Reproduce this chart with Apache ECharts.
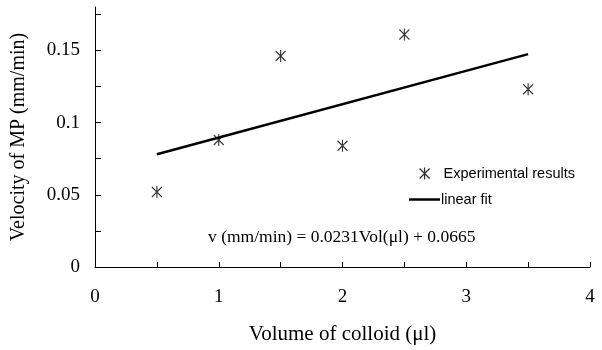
<!DOCTYPE html>
<html>
<head>
<meta charset="utf-8">
<script src="https://cdn.jsdelivr.net/npm/echarts@6/dist/echarts.min.js"></script>
<style>
  html, body { margin: 0; padding: 0; background: #fff; }
  #chart { width: 602px; height: 350px; }
</style>
</head>
<body>
<div id="chart"></div>
<script>
// Measured migration velocity against colloid volume
const volumes = [0.5, 1, 1.5, 2, 2.5, 3.5];
const velocities = [0.052, 0.088, 0.146, 0.084, 0.161, 0.123];

// Least-squares fit stated in the annotation: v = 0.0231 Vol + 0.0665
const fitSlope = 0.0231;
const fitIntercept = 0.0665;
const fitRange = [0.5, 3.5];

// Axis ticks and labels
const xTickValues = [0, 0.5, 1, 1.5, 2, 2.5, 3, 3.5, 4];
const xLabelValues = [0, 1, 2, 3, 4];
const yTickValues = [0, 0.025, 0.05, 0.075, 0.1, 0.125, 0.15, 0.175];
const yLabelValues = [0, 0.05, 0.1, 0.15];

const seriesNames = ['Experimental results', 'linear fit'];
const equationText = 'v (mm/min) = 0.0231Vol(\u03bcl) + 0.0665';

const serif = '"Liberation Serif", "Times New Roman", serif';
const sans = '"Liberation Sans", Arial, sans-serif';

// Asterisk marker: vertical stroke crossed by two diagonals
const asterisk = 'path://M5,0 L5,12 M0,1 L10,11 M10,1 L0,11';

const scatterData = volumes.map((v, i) => [v, velocities[i]]);
const fitData = fitRange.map(v => [v, fitSlope * v + fitIntercept]);

const chart = echarts.init(document.getElementById('chart'), null, { renderer: 'canvas' });

chart.setOption({
  animation: false,
  backgroundColor: '#fff',
  grid: { left: 95, right: 12, top: 7, bottom: 82, containLabel: false },
  xAxis: {
    type: 'value',
    min: 0,
    max: 4,
    interval: 0.5,
    name: 'Volume of colloid (\u03bcl)',
    nameLocation: 'middle',
    nameGap: 57,
    nameTextStyle: { fontFamily: serif, fontSize: 21, color: '#000' },
    axisLine: { show: true, onZero: false, lineStyle: { color: '#000', width: 1 } },
    axisTick: { show: true, inside: true, length: 5, customValues: xTickValues, lineStyle: { color: '#000' } },
    axisLabel: { customValues: xLabelValues, margin: 21, fontFamily: serif, fontSize: 19, color: '#000' },
    splitLine: { show: false }
  },
  yAxis: {
    type: 'value',
    min: 0,
    max: 0.18,
    name: 'Velocity of MP (mm/min)',
    nameLocation: 'middle',
    nameGap: 66,
    nameTextStyle: { fontFamily: serif, fontSize: 20, color: '#000' },
    axisLine: { show: true, onZero: false, lineStyle: { color: '#000', width: 1 } },
    axisTick: { show: true, inside: true, length: 6, customValues: yTickValues, lineStyle: { color: '#000' } },
    axisLabel: {
      customValues: yLabelValues,
      margin: 15,
      fontFamily: serif,
      fontSize: 19,
      color: '#000',
      formatter: v => String(+v.toFixed(3))
    },
    splitLine: { show: false }
  },
  legend: [
    {
      data: [seriesNames[0]],
      left: 419,
      top: 166,
      padding: 0,
      itemWidth: 28,
      itemHeight: 12,
      icon: asterisk,
      itemStyle: { color: 'rgba(0,0,0,0)', borderColor: '#000', borderWidth: 1.2 },
      textStyle: { fontFamily: sans, fontSize: 14.5, color: '#000' },
      selectedMode: false
    },
    {
      data: [{ name: seriesNames[1], icon: 'rect' }],
      left: 409,
      top: 192,
      padding: 0,
      itemWidth: 31,
      itemHeight: 2.5,
      itemStyle: { color: '#000' },
      textStyle: { fontFamily: sans, fontSize: 14.5, color: '#000', padding: [0, 0, 0, -4] },
      selectedMode: false
    }
  ],
  graphic: [
    {
      type: 'text',
      left: 208,
      top: 228,
      style: { text: equationText, fontFamily: serif, fontSize: 17.5, fill: '#000' }
    }
  ],
  series: [
    {
      name: seriesNames[0],
      type: 'scatter',
      data: scatterData,
      symbol: asterisk,
      symbolSize: [10, 12],
      itemStyle: { color: 'rgba(0,0,0,0)', borderColor: '#000', borderWidth: 1.2 },
      z: 3
    },
    {
      name: seriesNames[1],
      type: 'line',
      data: fitData,
      showSymbol: false,
      symbol: 'none',
      lineStyle: { color: '#000', width: 2.5 },
      z: 2
    }
  ]
});
</script>
</body>
</html>
